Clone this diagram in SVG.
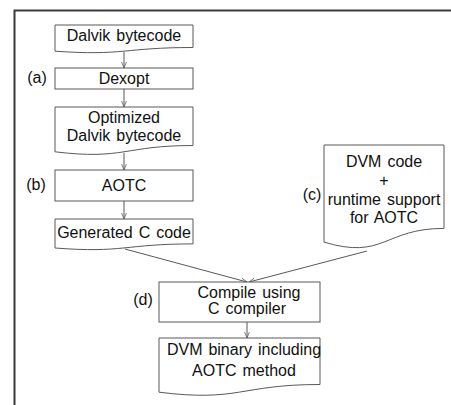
<svg xmlns="http://www.w3.org/2000/svg" width="451" height="405" viewBox="0 0 451 405">
<style>
.box{fill:#fff;stroke:#595959;stroke-width:1}
.t{font-family:"Liberation Sans",Arial,sans-serif;font-size:16px;fill:#111;text-anchor:middle;word-spacing:1.5px}
.lbl{font-family:"Liberation Sans",Arial,sans-serif;font-size:16px;fill:#111;text-anchor:middle}
.c{fill:none;stroke:#595959;stroke-width:1}
</style>
<defs>
<marker id="ah" viewBox="0 0 10 10" refX="10" refY="5" markerWidth="6" markerHeight="6" orient="auto" markerUnits="userSpaceOnUse">
<path d="M0,1 L10,5 L0,9" fill="none" stroke="#595959" stroke-width="1.3"/>
</marker>
</defs>
<rect width="451" height="405" fill="#fff"/>
<path d="M14.5,405 L14.5,10.5 L451,10.5" fill="none" stroke="#3a3a3a" stroke-width="2"/>
<g id="connectors">
<line class="c" x1="124" y1="52" x2="124" y2="68" marker-end="url(#ah)"/>
<line class="c" x1="124" y1="89" x2="124" y2="107" marker-end="url(#ah)"/>
<line class="c" x1="124" y1="153" x2="124" y2="170" marker-end="url(#ah)"/>
<line class="c" x1="124" y1="201" x2="124" y2="219" marker-end="url(#ah)"/>
<line class="c" x1="125" y1="249" x2="247" y2="282" marker-end="url(#ah)"/>
<line class="c" x1="367" y1="251" x2="249" y2="282" marker-end="url(#ah)"/>
<line class="c" x1="247" y1="322" x2="247" y2="338" marker-end="url(#ah)"/>
</g>
<g id="dalvik">
<path class="box" d="M55,25 H193 V47.5 C124,47.5 124,56 55,51.2 Z"/>
<text class="t" x="124" y="41">Dalvik bytecode</text>
</g>
<g id="dexopt">
<rect class="box" x="55" y="68" width="138" height="21"/>
<text class="t" x="124" y="84">Dexopt</text>
</g>
<g id="optimized">
<path class="box" d="M55,107 H193 V145.5 C124,145.5 124,160.2 55,151.8 Z"/>
<text class="t" x="124" y="123">Optimized</text>
<text class="t" x="124" y="141">Dalvik bytecode</text>
</g>
<g id="aotc">
<rect class="box" x="55" y="170" width="138" height="31"/>
<text class="t" x="124" y="191">AOTC</text>
</g>
<g id="genc">
<path class="box" d="M55,219 H193 V243.9 C124,243.9 124,253.3 55,248 Z"/>
<text class="t" x="124" y="238">Generated C code</text>
</g>
<g id="dvmcode">
<path class="box" d="M324,145 H444 V228.4 C384,228.4 384,260.2 324,242.1 Z"/>
<text class="t" x="384" y="167">DVM code</text>
<text class="t" x="384" y="186">+</text>
<text class="t" x="384" y="205">runtime support</text>
<text class="t" x="384" y="223">for AOTC</text>
</g>
<g id="compile">
<rect class="box" x="159" y="282" width="161" height="40"/>
<text class="t" x="249" y="298">Compile using</text>
<text class="t" x="247" y="314">C compiler</text>
</g>
<g id="dvmbinary">
<path class="box" d="M159,338 H320 V384.5 C239.5,384.5 239.5,402.2 159,392.2 Z"/>
<text class="t" x="244" y="355">DVM binary including</text>
<text class="t" x="244" y="376">AOTC method</text>
</g>
<g id="labels">
<text class="lbl" x="37" y="83">(a)</text>
<text class="lbl" x="36" y="190">(b)</text>
<text class="lbl" x="312" y="200">(c)</text>
<text class="lbl" x="143" y="305">(d)</text>
</g>
</svg>
